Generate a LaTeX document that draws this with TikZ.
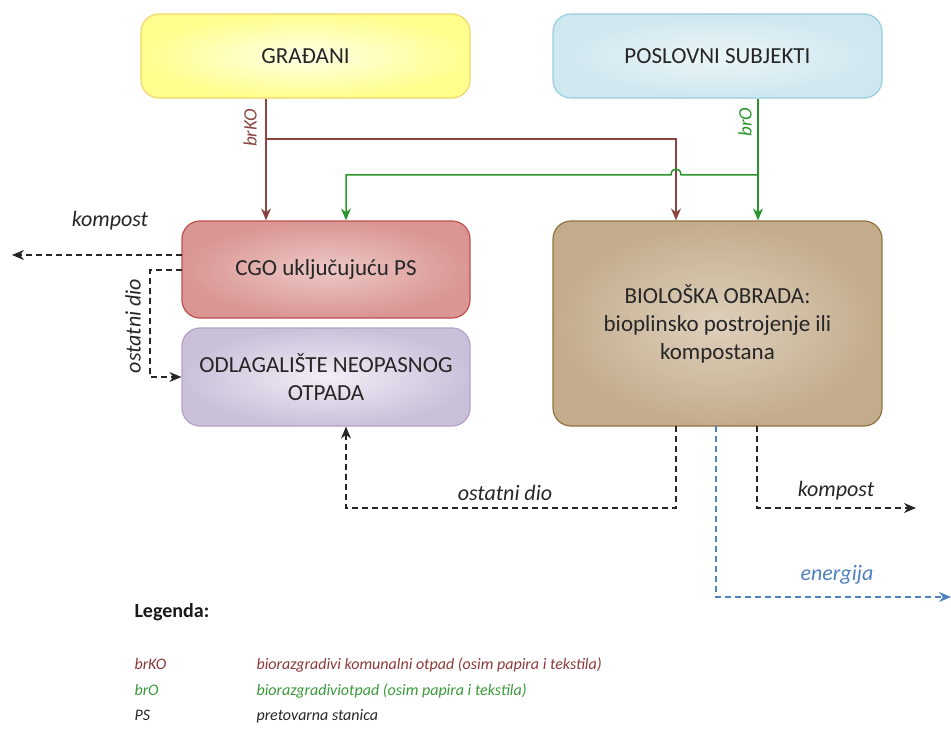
\documentclass[tikz,border=0pt]{standalone}
\usepackage{fontspec}
\setmainfont{Carlito}
\usetikzlibrary{arrows.meta,calc}
\definecolor{yOut}{HTML}{FFFF8E}
\definecolor{yIn}{HTML}{FFFFE6}
\definecolor{yBd}{HTML}{F3D46A}
\definecolor{bOut}{HTML}{CFE7EF}
\definecolor{bIn}{HTML}{EAF5F8}
\definecolor{bBd}{HTML}{98CEDE}
\definecolor{rOut}{HTML}{D99694}
\definecolor{rIn}{HTML}{EDC8C6}
\definecolor{rBd}{HTML}{C0504D}
\definecolor{lOut}{HTML}{CBC0DA}
\definecolor{lIn}{HTML}{F2EEF6}
\definecolor{lBd}{HTML}{B3A2C7}
\definecolor{tOut}{HTML}{C3AC8C}
\definecolor{tIn}{HTML}{DED0BC}
\definecolor{tBd}{HTML}{94703F}
\definecolor{brk}{HTML}{8B4543}
\definecolor{brg}{HTML}{2A962A}
\definecolor{enb}{HTML}{4F81BD}
\definecolor{legb}{HTML}{8B3A3A}
\definecolor{legg}{HTML}{3A9A3A}
\tikzset{
  box/.style={rounded corners=18pt, line width=1.2pt, align=center, font=\fontsize{23}{28}\selectfont, text=black!85},
  brko/.style={draw=brk, line width=1.3pt},
  bro/.style={draw=brg, line width=1.5pt},
  dsh/.style={draw=black!85, line width=1.3pt, dash pattern=on 6pt off 4pt},
  edsh/.style={draw=enb, line width=1.3pt, dash pattern=on 6pt off 4pt},
  tip/.style={-{Stealth[length=12pt,width=10pt]}},
  lab/.style={font=\fontsize{22}{24}\selectfont\itshape, text=black!85},
  leg/.style={font=\fontsize{16}{20}\selectfont\itshape, anchor=base west}
}
\begin{document}
\begin{tikzpicture}[x=1pt,y=-1pt]
\useasboundingbox (0,0) rectangle (951,733);
% boxes
\node[box, draw=yBd, inner color=yIn, outer color=yOut, minimum width=329pt, minimum height=84pt] (g) at (305.5,56) {GRAĐANI};
\node[box, draw=bBd, inner color=bIn, outer color=bOut, minimum width=329pt, minimum height=84pt] (p) at (717.5,56) {POSLOVNI SUBJEKTI};
\node[box, draw=rBd, inner color=rIn, outer color=rOut, minimum width=288pt, minimum height=97pt] (c) at (326,269.5) {CGO uključujuću PS};
\node[box, draw=lBd, inner color=lIn, outer color=lOut, minimum width=288pt, minimum height=98pt] (o) at (326,377) {ODLAGALIŠTE NEOPASNOG\\OTPADA};
\node[box, draw=tBd, inner color=tIn, outer color=tOut, minimum width=329pt, minimum height=205pt] (b) at (717.5,323.5) {BIOLOŠKA OBRADA:\\bioplinsko postrojenje ili\\kompostana};
% x guides
\coordinate (xk) at (266,0);
\coordinate (xkb) at (676,0);
\coordinate (xg) at (758,0);
\coordinate (xgc) at (346,0);
\coordinate (brKOsplit) at (266,139);
\coordinate (brOsplit) at (758,175);
\coordinate (hopR) at (681,175);
\coordinate (hopL) at (671,175);
% brKO
\draw[brko,tip] (g.south -| xk) -- (c.north -| xk);
\draw[brko,tip] (brKOsplit) -| (b.north -| xkb);
\node[lab, text=brk, rotate=90, font=\fontsize{19}{20}\selectfont\itshape] (lk) at (250,128) {brKO};
% brO
\draw[bro,tip] (p.south -| xg) -- (b.north -| xg);
\draw[bro,tip] (brOsplit) -- (hopR) .. controls (681,167) and (671,167) .. (hopL) -| (c.north -| xgc);
\node[lab, text=brg, rotate=90, font=\fontsize{19}{20}\selectfont\itshape] (lg) at (745,122) {brO};
% left outputs of CGO
\coordinate (kl) at (12,255);
\coordinate (cgoA) at (182,255);
\coordinate (cgoB) at (182,270);
\coordinate (ocorner) at (150,270);
\draw[dsh,tip] (cgoA) -- (kl);
\node[lab] (lkomp1) at (110,221) {kompost};
\draw[dsh,tip] (cgoB) -- (ocorner) |- (o.west);
\node[lab, rotate=90] (lost1) at (133,326) {ostatni dio};
% outputs of biological treatment
\coordinate (bA) at (676,426);
\coordinate (bB) at (757,426);
\coordinate (bE) at (716,426);
\coordinate (yost) at (0,508);
\coordinate (xod) at (346,0);
\coordinate (kr) at (916,508);
\coordinate (er) at (951,597);
\draw[dsh,tip] (bA) -- (bA |- yost) -| (o.south -| xod);
\node[lab] (lost2) at (505,493) {ostatni dio};
\draw[dsh,tip] (bB) |- (kr);
\node[lab] (lkomp2) at (836,491) {kompost};
\draw[edsh,tip] (bE) |- (er);
\node[lab, text=enb] (len) at (837,575) {energija};
% legend
\node[font=\fontsize{20}{22}\selectfont\bfseries, anchor=base west, text=black!90] (lt) at (131,617) {Legenda:};
\node[leg, text=legb] (l1a) at (131,669) {brKO};
\node[leg, text=legb] (l1b) at (253,669) {biorazgradivi komunalni otpad (osim papira i tekstila)};
\node[leg, text=legg] (l2a) at (131,695) {brO};
\node[leg, text=legg] (l2b) at (253,695) {biorazgradiviotpad (osim papira i tekstila)};
\node[leg, text=black!85] (l3a) at (131,720) {PS};
\node[leg, text=black!85] (l3b) at (253,720) {pretovarna stanica};
\end{tikzpicture}
\end{document}
